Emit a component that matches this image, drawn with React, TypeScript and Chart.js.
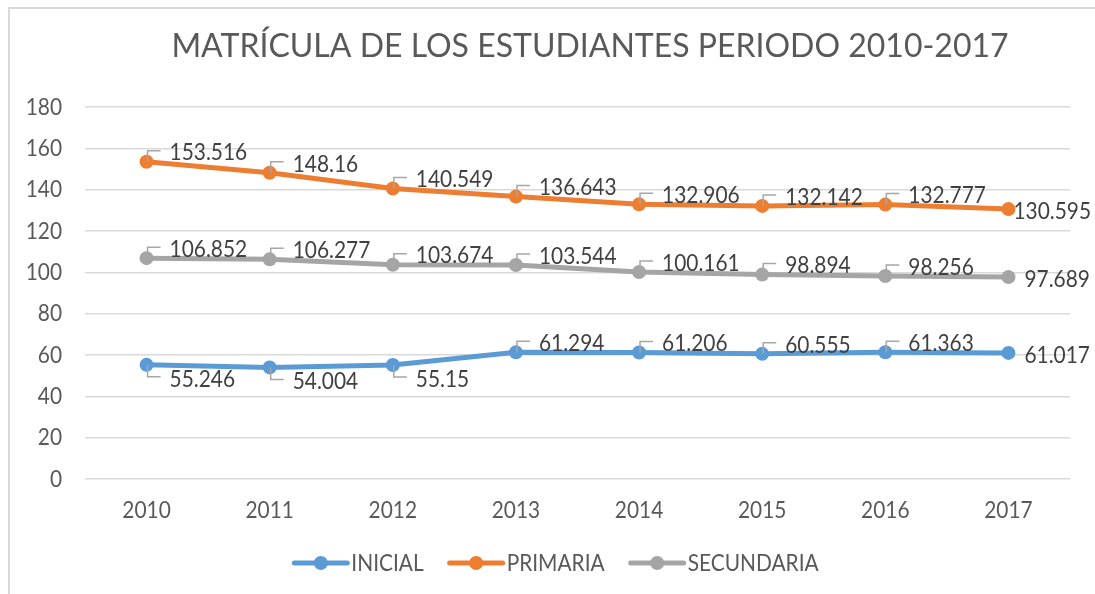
import React, { useEffect, useRef } from "react";
import { Chart, registerables } from "chart.js";

Chart.register(...registerables);

const title = "MATRÍCULA DE LOS ESTUDIANTES PERIODO 2010-2017";
const years = ["2010", "2011", "2012", "2013", "2014", "2015", "2016", "2017"];
const seriesNames = ["INICIAL", "PRIMARIA", "SECUNDARIA"];
const inicial = [55.246, 54.004, 55.15, 61.294, 61.206, 60.555, 61.363, 61.017];
const primaria = [153.516, 148.16, 140.549, 136.643, 132.906, 132.142, 132.777, 130.595];
const secundaria = [106.852, 106.277, 103.674, 103.544, 100.161, 98.894, 98.256, 97.689];
const yMin = 0;
const yMax = 180;
const yStep = 20;

// label placement per point: a = above-right with leader, b = below-right with leader,
// r = right, t = tight right
const inicialPlacement = ["b", "b", "b", "a", "a", "a", "a", "r"];
const primariaPlacement = ["a", "a", "a", "a", "a", "a", "a", "t"];
const secundariaPlacement = ["a", "a", "a", "a", "a", "a", "a", "r"];

const colors = ["#5b9bd5", "#ed7d31", "#a5a5a5"];
const FONT = "Lato, 'Open Sans', sans-serif";
const TEXT = "#595959";
const LABEL = "#404040";
const SIZE = 24;
const SX = 0.87;

const placements = [inicialPlacement, primariaPlacement, secundariaPlacement];

function drawText(ctx: any, text: string, x: number, y: number, align: string, color: string) {
  ctx.save();
  ctx.font = `${SIZE}px ${FONT}`;
  ctx.fillStyle = color;
  ctx.textAlign = align;
  ctx.textBaseline = "middle";
  ctx.translate(x, y);
  ctx.scale(SX, 1);
  ctx.fillText(text, 0, 0);
  ctx.restore();
}

const decorPlugin = {
  id: "decor",
  beforeDraw(chart: any) {
    const ctx = chart.ctx;
    ctx.save();
    ctx.fillStyle = "#ffffff";
    ctx.fillRect(0, 0, chart.width, chart.height);
    ctx.strokeStyle = "#d9d9d9";
    ctx.lineWidth = 2;
    ctx.strokeRect(9, 8, chart.width + 100, chart.height + 100);
    // title
    ctx.fillStyle = TEXT;
    ctx.font = `32px ${FONT}`;
    ctx.textAlign = "center";
    ctx.textBaseline = "middle";
    ctx.fillText(title, 590, 47);
    ctx.restore();
  },
  afterDraw(chart: any) {
    const ctx = chart.ctx;
    // axis tick labels
    const ys = chart.scales.y;
    ys.ticks.forEach((t: any) => {
      drawText(ctx, String(t.value), ys.right - 23, ys.getPixelForValue(t.value), "right", TEXT);
    });
    const xs = chart.scales.x;
    years.forEach((yr, i) => {
      drawText(ctx, yr, xs.getPixelForValue(i), xs.top + 31, "center", TEXT);
    });
  },
  afterDatasetsDraw(chart: any) {
    const ctx = chart.ctx;
    ctx.save();
    chart.data.datasets.forEach((ds: any, i: number) => {
      const meta = chart.getDatasetMeta(i);
      meta.data.forEach((pt: any, j: number) => {
        const p = placements[i][j];
        const x = pt.x;
        const y = pt.y;
        const text = String(ds.data[j]);
        if (p === "r") {
          drawText(ctx, text, x + 16, y + 2, "left", LABEL);
        } else if (p === "t") {
          drawText(ctx, text, x + 5, y + 2, "left", LABEL);
        } else {
          const ty = p === "a" ? y - 9 : y + 14;
          ctx.strokeStyle = "#a6a6a6";
          ctx.lineWidth = 1.5;
          ctx.beginPath();
          ctx.moveTo(x + 1, y);
          ctx.lineTo(x + 1, ty - 2);
          ctx.lineTo(x + 14, ty - 2);
          ctx.stroke();
          drawText(ctx, text, x + 23, ty, "left", LABEL);
        }
      });
    });
    // legend
    ctx.font = `${SIZE}px ${FONT}`;
    const lineLen = 53;
    const gap = 4;
    const itemGap = 26;
    const widths = seriesNames.map((n) => lineLen + gap + ctx.measureText(n).width * SX);
    const total = widths.reduce((a, b) => a + b, 0) + itemGap * (seriesNames.length - 1);
    let lx = chart.width / 2 + 9 - total / 2;
    const ly = 563;
    seriesNames.forEach((n, i) => {
      ctx.strokeStyle = colors[i];
      ctx.lineWidth = 5;
      ctx.lineCap = "round";
      ctx.beginPath();
      ctx.moveTo(lx, ly);
      ctx.lineTo(lx + lineLen, ly);
      ctx.stroke();
      ctx.fillStyle = colors[i];
      ctx.beginPath();
      ctx.arc(lx + lineLen / 2, ly, 7, 0, Math.PI * 2);
      ctx.fill();
      drawText(ctx, n, lx + lineLen + gap, ly, "left", TEXT);
      lx += widths[i] + itemGap;
    });
    ctx.restore();
  },
};

export default function App() {
  const ref = useRef<HTMLCanvasElement>(null);
  useEffect(() => {
    document.body.style.margin = "0";
    const seriesData = [inicial, primaria, secundaria];
    const chart = new Chart(ref.current as HTMLCanvasElement, {
      type: "line",
      data: {
        labels: years,
        datasets: seriesNames.map((name, i) => ({
          label: name,
          data: seriesData[i],
          borderColor: colors[i],
          backgroundColor: colors[i],
          borderWidth: 5,
          pointRadius: 7,
          pointBorderWidth: 0,
          pointBackgroundColor: colors[i],
          tension: 0,
          fill: false,
        })),
      },
      options: {
        responsive: false,
        animation: false,
        events: [],
        layout: { padding: { top: 107, right: 25, left: 0, bottom: 0 } },
        plugins: {
          legend: { display: false },
          title: { display: false },
          tooltip: { enabled: false },
        },
        scales: {
          x: {
            offset: true,
            grid: { display: false, drawTicks: false },
            border: { display: false },
            ticks: { display: false },
            afterFit: (s: any) => {
              s.height = 115;
            },
          },
          y: {
            min: yMin,
            max: yMax,
            grid: { color: "#d9d9d9", lineWidth: 1.5, drawTicks: false },
            border: { display: false },
            ticks: { stepSize: yStep, display: false },
            afterFit: (s: any) => {
              s.width = 85;
            },
          },
        },
      },
      plugins: [decorPlugin],
    });
    return () => chart.destroy();
  }, []);
  return (
    <div style={{ position: "relative", width: 1095, height: 594 }}>
      <canvas ref={ref} width={1095} height={594} style={{ display: "block" }} />
    </div>
  );
}
